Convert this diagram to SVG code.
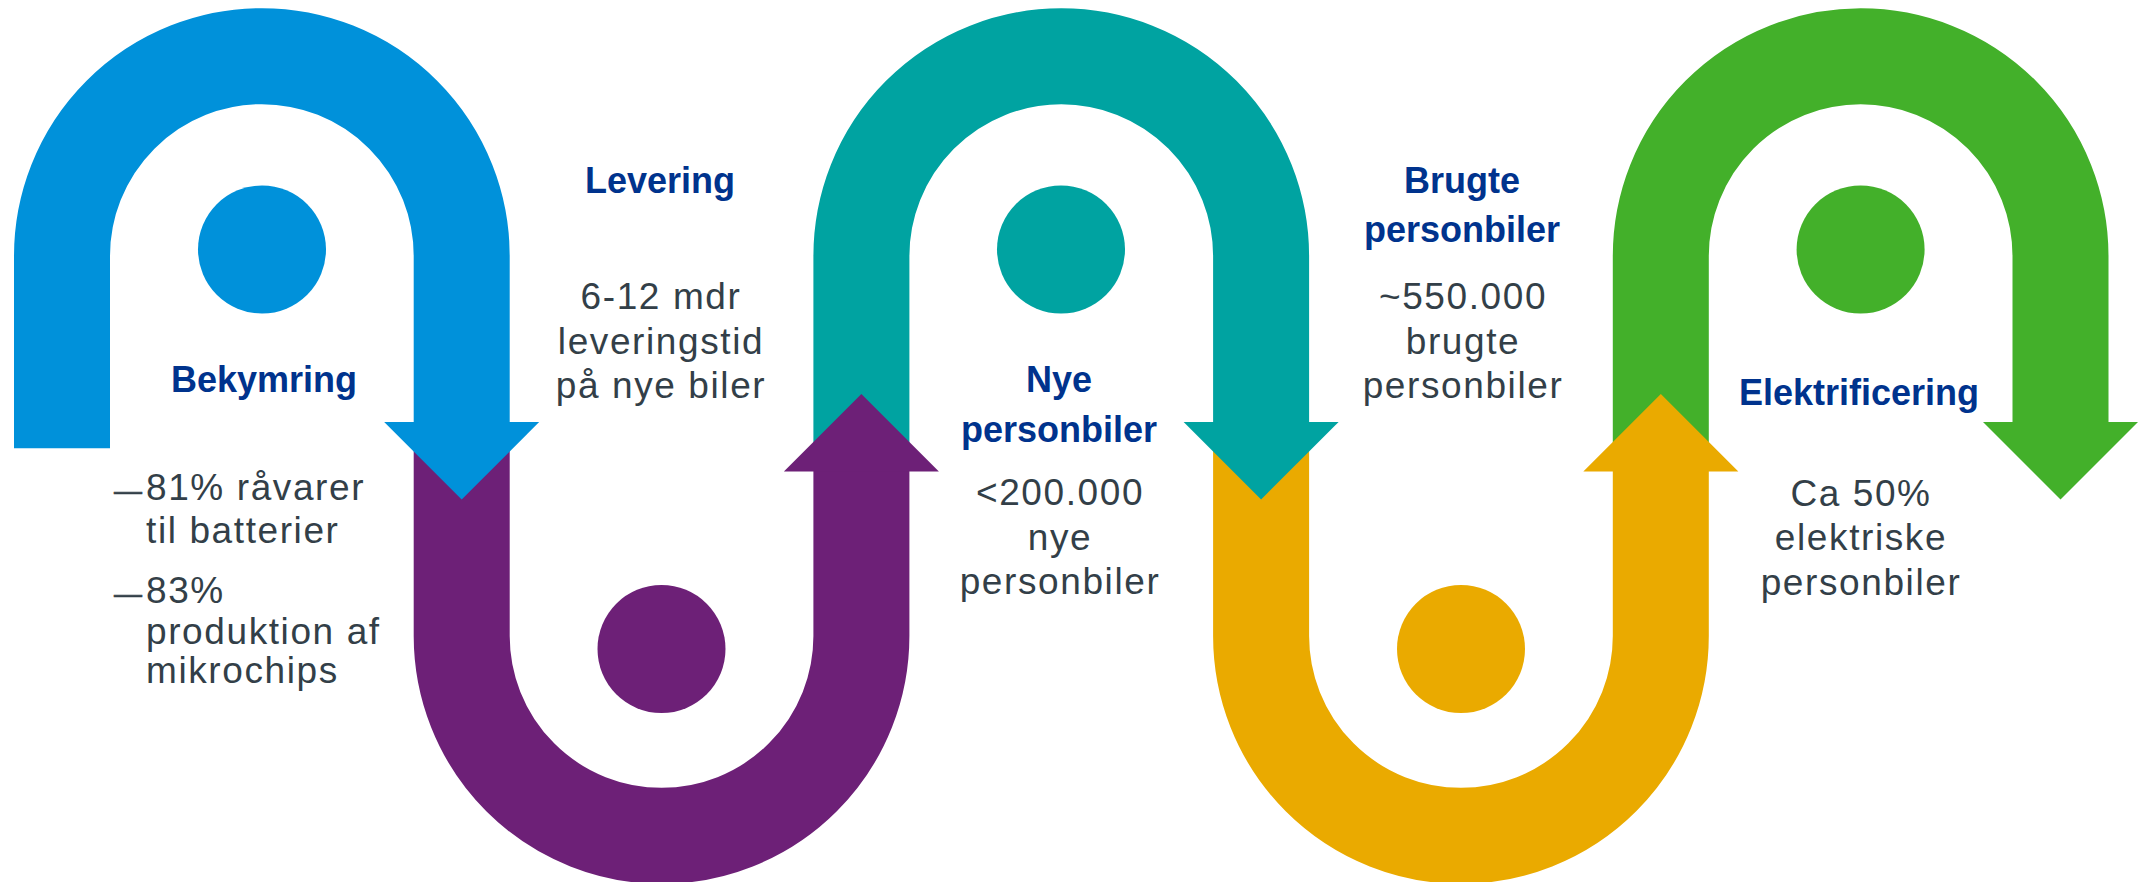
<svg xmlns="http://www.w3.org/2000/svg" width="2141" height="882" viewBox="0 0 2141 882">
  <style>
    .band { fill: none; stroke-width: 96; stroke-linecap: butt; }
    .title { font-family: "Liberation Sans", Arial, sans-serif; font-weight: bold; font-size: 36px; fill: #00338D; text-anchor: middle; }
    .body { font-family: "Liberation Sans", Arial, sans-serif; font-size: 37px; fill: #333F48; letter-spacing: 1.6px; }
    .dash { font-size: 28px; letter-spacing: 0; stroke: #333F48; stroke-width: 0.6px; }
    .mid { text-anchor: middle; }
    .blue { stroke: #0091DA; } .blueF { fill: #0091DA; }
    .purple { stroke: #6D2077; } .purpleF { fill: #6D2077; }
    .teal { stroke: #00A3A1; } .tealF { fill: #00A3A1; }
    .gold { stroke: #EAAA00; } .goldF { fill: #EAAA00; }
    .green { stroke: #43B02A; } .greenF { fill: #43B02A; }
  </style>
  <rect width="2141" height="882" fill="#FFFFFF"/>

  <g id="connectors">
    <!-- green -->
    <path class="band green" d="M1660.8,460 V256 A199.85,199.85 0 0 1 2060.5,256 V432"/>
    <polygon class="greenF" points="1983,422 2138,422 2060.5,499.5"/>
    <!-- gold -->
    <path class="band gold" d="M1261.1,440 V636 A199.85,199.85 0 0 0 1660.8,636 V462"/>
    <polygon class="goldF" points="1583.3,471.4 1738.3,471.4 1660.8,393.9"/>
    <!-- teal -->
    <path class="band teal" d="M861.4,460 V256 A199.85,199.85 0 0 1 1261.1,256 V432"/>
    <polygon class="tealF" points="1183.6,422 1338.6,422 1261.1,499.5"/>
    <!-- purple -->
    <path class="band purple" d="M461.7,440 V636 A199.85,199.85 0 0 0 861.4,636 V462"/>
    <polygon class="purpleF" points="783.9,471.4 938.9,471.4 861.4,393.9"/>
    <!-- blue -->
    <path class="band blue" d="M62,448.3 V256 A199.85,199.85 0 0 1 461.7,256 V432"/>
    <polygon class="blueF" points="384.2,422 539.2,422 461.7,499.5"/>
  </g>

  <g id="node-bekymring">
    <circle class="blueF" cx="262" cy="249.5" r="64"/>
    <text class="title" x="264" y="392">Bekymring</text>
    <text class="body" x="114" y="499.5"><tspan class="dash">—</tspan><tspan x="146">81% råvarer</tspan></text>
    <text class="body" x="146" y="542.7">til batterier</text>
    <text class="body" x="114" y="602.7"><tspan class="dash">—</tspan><tspan x="146">83%</tspan></text>
    <text class="body" x="146" y="643.7">produktion af</text>
    <text class="body" x="146" y="683">mikrochips</text>
  </g>

  <g id="node-levering">
    <circle class="purpleF" cx="661.5" cy="649" r="64"/>
    <text class="title" x="660" y="193">Levering</text>
    <text class="body mid" x="661" y="309.4">6-12 mdr</text>
    <text class="body mid" x="661" y="353.5">leveringstid</text>
    <text class="body mid" x="661" y="398">på nye biler</text>
  </g>

  <g id="node-nye">
    <circle class="tealF" cx="1061" cy="249.5" r="64"/>
    <text class="title" x="1059" y="392">Nye</text>
    <text class="title" x="1059" y="441.6">personbiler</text>
    <text class="body mid" x="1060" y="505">&lt;200.000</text>
    <text class="body mid" x="1060" y="549.5">nye</text>
    <text class="body mid" x="1060" y="593.5">personbiler</text>
  </g>

  <g id="node-brugte">
    <circle class="goldF" cx="1461" cy="649" r="64"/>
    <text class="title" x="1462" y="193">Brugte</text>
    <text class="title" x="1462" y="242">personbiler</text>
    <text class="body mid" x="1463" y="309.4">~550.000</text>
    <text class="body mid" x="1463" y="353.5">brugte</text>
    <text class="body mid" x="1463" y="398">personbiler</text>
  </g>

  <g id="node-elektrificering">
    <circle class="greenF" cx="1860.6" cy="249.5" r="64"/>
    <text class="title" x="1859" y="405">Elektrificering</text>
    <text class="body mid" x="1861" y="506">Ca 50%</text>
    <text class="body mid" x="1861" y="550">elektriske</text>
    <text class="body mid" x="1861" y="594.5">personbiler</text>
  </g>
</svg>
